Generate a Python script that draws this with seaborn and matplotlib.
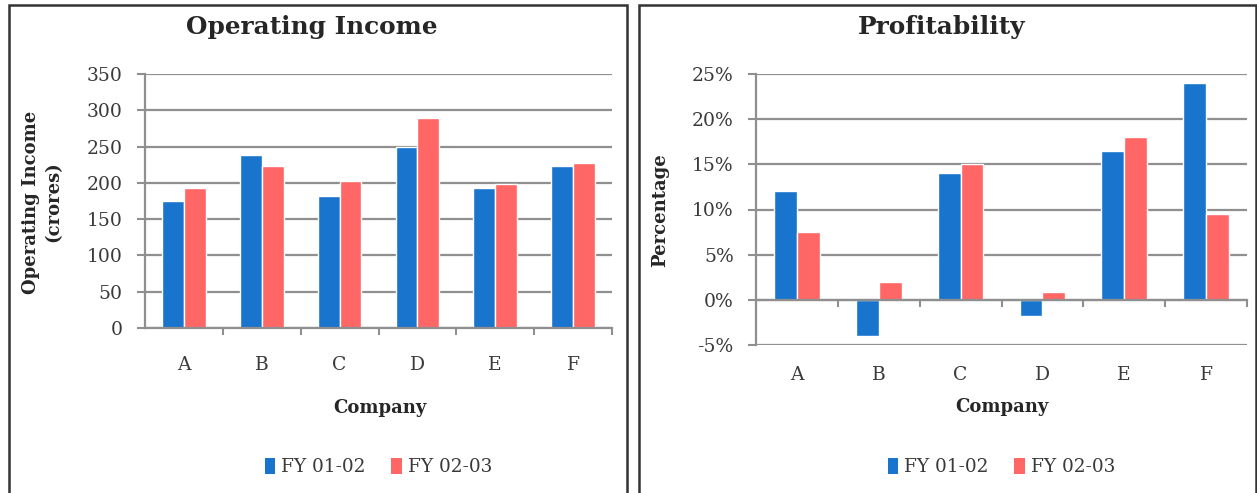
import matplotlib
matplotlib.use("Agg")
import matplotlib.pyplot as plt
import seaborn as sns
import pandas as pd
from matplotlib.patches import Rectangle, Patch
from matplotlib.ticker import PercentFormatter, FixedLocator

companies = ["A", "B", "C", "D", "E", "F"]
series = ["FY 01-02", "FY 02-03"]
income_fy0102 = [175, 239, 182, 249, 193, 223]
income_fy0203 = [193, 223, 203, 290, 198, 228]
profit_fy0102 = [12.0, -4.0, 14.0, -1.8, 16.5, 24.0]
profit_fy0203 = [7.5, 2.0, 15.0, 0.9, 18.0, 9.5]
income_ticks = [0, 50, 100, 150, 200, 250, 300, 350]
profit_ticks = [-5, 0, 5, 10, 15, 20, 25]

colors = ["#1874CD", "#FF6666"]

sns.set_theme(style="white")
plt.rcParams["font.family"] = ["DejaVu Serif", "DejaVu Sans"]
plt.rcParams["axes.unicode_minus"] = False

W, H = 1257, 493
fig = plt.figure(figsize=(W / 100, H / 100), dpi=100)

def px_axes(x0, x1, ytop, ybot):
    return fig.add_axes([x0 / W, 1 - ybot / H, (x1 - x0) / W, (ybot - ytop) / H])

def long_df(a, b):
    return pd.DataFrame({
        "Company": companies * 2,
        "Series": [series[0]] * 6 + [series[1]] * 6,
        "Value": list(a) + list(b),
    })

GRID = "#8f8f8f"
TXT = "#3a3a3a"

def style_axes(ax, ticks, pad_px_x):
    ax.set_xlim(-0.5, 5.5)
    ax.set_yticks(ticks)
    ax.set_ylim(ticks[0], ticks[-1])
    ax.yaxis.grid(True, color=GRID, lw=1.6)
    ax.xaxis.grid(False)
    ax.set_axisbelow(True)
    for s in ["top", "right"]:
        ax.spines[s].set_visible(False)
    ax.spines["left"].set_color(GRID)
    ax.spines["left"].set_linewidth(1.6)
    ax.spines["bottom"].set_color(GRID)
    ax.spines["bottom"].set_linewidth(1.6)
    ax.tick_params(axis="y", direction="out", length=6, width=1.5, color=GRID,
                   pad=10, labelsize=13.5, labelcolor=TXT, left=True)
    ax.set_xticks(range(6))
    ax.set_xticklabels(companies)
    ax.xaxis.set_minor_locator(FixedLocator([0.5, 1.5, 2.5, 3.5, 4.5, 5.5]))
    ax.tick_params(axis="x", which="major", length=0, pad=pad_px_x * 0.72,
                   labelsize=13.5, labelcolor=TXT, bottom=True)
    ax.tick_params(axis="x", which="minor", direction="out", length=5, width=1.5,
                   color=GRID, bottom=True)
    ax.set_xlabel("")
    ax.set_ylabel("")

def legend(ax, yax):
    handles = [Patch(facecolor=c, edgecolor="none") for c in colors]
    ax.legend(handles, series, loc="center", bbox_to_anchor=(0.5, yax), ncol=2,
              frameon=False, fontsize=13.3, handlelength=0.55, handleheight=1.0,
              handletextpad=0.35, columnspacing=1.4, labelcolor=TXT)

# Left panel
ax1 = px_axes(145, 612, 74, 328)
sns.barplot(data=long_df(income_fy0102, income_fy0203), x="Company", y="Value",
            hue="Series", palette=colors, saturation=1, width=0.56, gap=0,
            edgecolor="white", linewidth=1, ax=ax1, legend=False, errorbar=None)
style_axes(ax1, income_ticks, 28)
legend(ax1, (328 - 467) / 254)

# Right panel
ax2 = px_axes(756, 1247, 74, 345)
sns.barplot(data=long_df(profit_fy0102, profit_fy0203), x="Company", y="Value",
            hue="Series", palette=colors, saturation=1, width=0.56, gap=0,
            edgecolor="white", linewidth=1, ax=ax2, legend=False, errorbar=None)
style_axes(ax2, profit_ticks, 66)
ax2.spines["bottom"].set_position(("data", 0))
ax2.yaxis.set_major_formatter(PercentFormatter(decimals=0))
legend(ax2, (345 - 467) / 271)

# Titles and axis labels
fig.text(312 / W, 1 - 27 / H, "Operating Income", ha="center", va="center",
         fontsize=17.8, fontweight="bold", color="#262626")
fig.text(942 / W, 1 - 27 / H, "Profitability", ha="center", va="center",
         fontsize=17.8, fontweight="bold", color="#262626")
fig.text(380 / W, 1 - 408 / H, "Company", ha="center", va="center",
         fontsize=13, fontweight="bold", color="#262626")
fig.text(1002 / W, 1 - 407 / H, "Company", ha="center", va="center",
         fontsize=13, fontweight="bold", color="#262626")
fig.text(42 / W, 1 - 202 / H, "Operating Income\n(crores)", ha="center", va="center",
         rotation=90, fontsize=13, fontweight="bold", color="#262626", linespacing=1.3)
fig.text(660 / W, 1 - 210 / H, "Percentage", ha="center", va="center",
         rotation=90, fontsize=13, fontweight="bold", color="#262626")

# Panel borders
fig.patches.append(Rectangle((9 / W, -0.05), (627 - 9) / W, 1.05 - 5 / H,
                             transform=fig.transFigure, fill=False,
                             edgecolor="#333333", lw=1.8))
fig.patches.append(Rectangle((639 / W, -0.05), (1256 - 639) / W, 1.05 - 5 / H,
                             transform=fig.transFigure, fill=False,
                             edgecolor="#333333", lw=1.8))

fig.savefig("out.png", dpi=100, facecolor="white")
